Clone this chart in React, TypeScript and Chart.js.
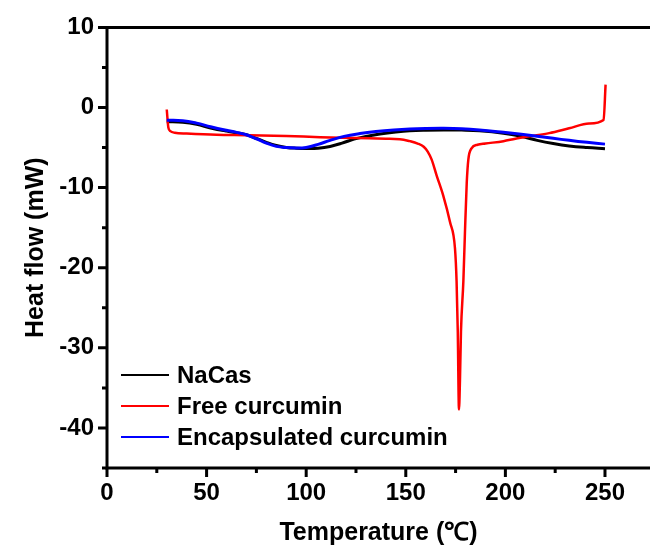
import React, { useEffect, useRef } from 'react';
import { Chart, registerables } from 'chart.js';

Chart.register(...registerables);

const FONT = '"Liberation Sans", Arial, Helvetica, sans-serif';

const seriesLabels = ['NaCas', 'Free curcumin', 'Encapsulated curcumin'];
const seriesColors = ['#000000', '#ff0000', '#0000ff'];

const nacasTemp = [30, 38, 45, 52, 60, 65, 70, 75, 80, 85, 90, 95, 100, 106, 112, 118, 124, 130, 137, 145, 152, 160, 169, 178, 187, 199, 208, 216, 224, 232, 241, 250];
const nacasHeat = [-1.77, -1.85, -2.1, -2.55, -2.95, -3.15, -3.4, -3.85, -4.35, -4.75, -4.98, -5.08, -5.12, -5.08, -4.86, -4.45, -3.95, -3.6, -3.3, -3.05, -2.9, -2.83, -2.8, -2.82, -2.9, -3.2, -3.6, -4.1, -4.5, -4.8, -5.0, -5.14];

const freeTemp = [30, 30.8, 31.8, 34, 40, 55, 70, 90, 107, 125, 140, 147, 152, 156, 159, 161, 163, 165.5, 168.8, 172.2, 174.7, 175.5, 176.1, 176.7, 177.2, 177.7, 178.9, 179.7, 180.6, 181.4, 183, 186, 190, 199, 205, 212, 222, 232, 242, 249.3, 250.3];
const freeHeat = [-0.25, -2.5, -2.95, -3.15, -3.25, -3.4, -3.45, -3.55, -3.7, -3.8, -3.9, -3.95, -4.2, -4.5, -4.9, -5.5, -6.5, -8.5, -11, -14.3, -17.6, -21.7, -28, -37.7, -34, -28, -21.7, -15.6, -9.4, -6.5, -5.1, -4.65, -4.5, -4.2, -3.9, -3.6, -3.2, -2.6, -2.0, -1.56, 2.85];

const encTemp = [30, 38, 45, 52, 60, 65, 70, 75, 80, 85, 90, 95, 100, 106, 112, 119, 127, 135, 144, 152, 160, 169, 178, 187, 199, 208, 216, 224, 232, 241, 250];
const encHeat = [-1.6, -1.65, -1.95, -2.4, -2.85, -3.1, -3.4, -3.9, -4.45, -4.85, -5.0, -5.06, -4.98, -4.6, -4.1, -3.6, -3.25, -3.0, -2.8, -2.68, -2.62, -2.6, -2.65, -2.8, -3.1, -3.35, -3.6, -3.85, -4.1, -4.35, -4.57];

const xTickLabels = [0, 50, 100, 150, 200, 250];
const yTickLabels = [10, 0, -10, -20, -30, -40];

const xTitle = 'Temperature (\u2103)';
const yTitle = 'Heat flow (mW)';

const toPoints = (xs: number[], ys: number[]) => xs.map((x, i) => ({ x, y: ys[i] }));

const framePlugin = {
  id: 'frameAndLegend',
  afterDatasetsDraw(chart: any) {
    const { ctx, chartArea: a, scales } = chart;
    const xs = scales.x;
    const ys = scales.y;
    ctx.save();
    ctx.strokeStyle = '#000';
    ctx.lineWidth = 3;
    ctx.lineCap = 'butt';
    ctx.beginPath();
    ctx.moveTo(a.left, a.top - 1.5);
    ctx.lineTo(a.left, a.bottom + 1.5);
    ctx.moveTo(a.left - 1.5, a.bottom);
    ctx.lineTo(a.right, a.bottom);
    ctx.moveTo(a.left - 1.5, a.top);
    ctx.lineTo(a.right, a.top);
    ctx.stroke();

    ctx.beginPath();
    xs.ticks.forEach((t: any) => {
      const px = xs.getPixelForValue(t.value);
      const len = xTickLabels.includes(t.value) ? 9 : 5;
      ctx.moveTo(px, a.bottom);
      ctx.lineTo(px, a.bottom + len);
    });
    ys.ticks.forEach((t: any) => {
      const py = ys.getPixelForValue(t.value);
      const len = yTickLabels.includes(t.value) ? 9 : 5;
      ctx.moveTo(a.left, py);
      ctx.lineTo(a.left - len, py);
    });
    ctx.stroke();

    // legend inside plot, lower left
    ctx.font = `bold 24px ${FONT}`;
    ctx.textBaseline = 'middle';
    ctx.textAlign = 'left';
    const rowGap = 31;
    const firstRowY = a.bottom - 93;
    chart.data.datasets.forEach((ds: any, i: number) => {
      const y = firstRowY + i * rowGap;
      ctx.strokeStyle = ds.borderColor;
      ctx.lineWidth = 2;
      ctx.beginPath();
      ctx.moveTo(a.left + 14, y);
      ctx.lineTo(a.left + 62, y);
      ctx.stroke();
      ctx.fillStyle = '#000';
      ctx.fillText(ds.label, a.left + 70, y + 1);
    });
    ctx.restore();
  },
};

export default function App() {
  const canvasRef = useRef<HTMLCanvasElement | null>(null);

  useEffect(() => {
    if (!canvasRef.current) return;
    const chart = new Chart(canvasRef.current, {
      type: 'line',
      data: {
        datasets: [
          {
            label: seriesLabels[0],
            data: toPoints(nacasTemp, nacasHeat),
            borderColor: seriesColors[0],
            borderWidth: 3,
            cubicInterpolationMode: 'default',
            tension: 0.4,
            order: 3,
          },
          {
            label: seriesLabels[1],
            data: toPoints(freeTemp, freeHeat),
            borderColor: seriesColors[1],
            borderWidth: 2.5,
            cubicInterpolationMode: 'monotone',
            order: 2,
          },
          {
            label: seriesLabels[2],
            data: toPoints(encTemp, encHeat),
            borderColor: seriesColors[2],
            borderWidth: 3,
            cubicInterpolationMode: 'default',
            tension: 0.4,
            order: 1,
          },
        ],
      },
      options: {
        responsive: false,
        animation: false,
        parsing: false as any,
        elements: {
          point: { radius: 0, hoverRadius: 0 },
          line: { fill: false },
        },
        layout: { padding: { top: 24, right: 0, left: 0, bottom: 0 } },
        plugins: {
          legend: { display: false },
          tooltip: { enabled: false },
        },
        scales: {
          x: {
            type: 'linear',
            min: 0,
            max: 272.6,
            grid: { display: false, drawTicks: false },
            border: { display: false },
            ticks: {
              stepSize: 25,
              includeBounds: false,
              autoSkip: false,
              maxRotation: 0,
              padding: 11,
              color: '#000',
              font: { family: FONT, size: 24, weight: 'bold' },
              callback: (v: any) => (xTickLabels.includes(Number(v)) ? String(v) : ''),
            },
            title: {
              display: true,
              text: xTitle,
              color: '#000',
              font: { family: FONT, size: 25, weight: 'bold' },
              padding: { top: 0, bottom: 2 },
            },
            afterFit: (s: any) => {
              s.height = 82;
            },
          },
          y: {
            type: 'linear',
            min: -45,
            max: 10,
            grid: { display: false, drawTicks: false },
            border: { display: false },
            ticks: {
              stepSize: 5,
              autoSkip: false,
              padding: 13,
              color: '#000',
              font: { family: FONT, size: 24, weight: 'bold' },
              callback: (v: any) => (yTickLabels.includes(Number(v)) ? String(v) : ''),
            },
            title: {
              display: true,
              text: yTitle,
              color: '#000',
              font: { family: FONT, size: 25, weight: 'bold' },
              padding: { top: 21, bottom: 0 },
            },
            afterFit: (s: any) => {
              s.width = 107;
            },
          },
        },
      },
      plugins: [framePlugin],
    });
    return () => chart.destroy();
  }, []);

  return (
    <div style={{ position: 'fixed', left: 0, top: 0, width: 650, height: 550, background: '#fff' }}>
      <canvas ref={canvasRef} width={650} height={550} style={{ display: 'block', width: 650, height: 550 }} />
    </div>
  );
}
